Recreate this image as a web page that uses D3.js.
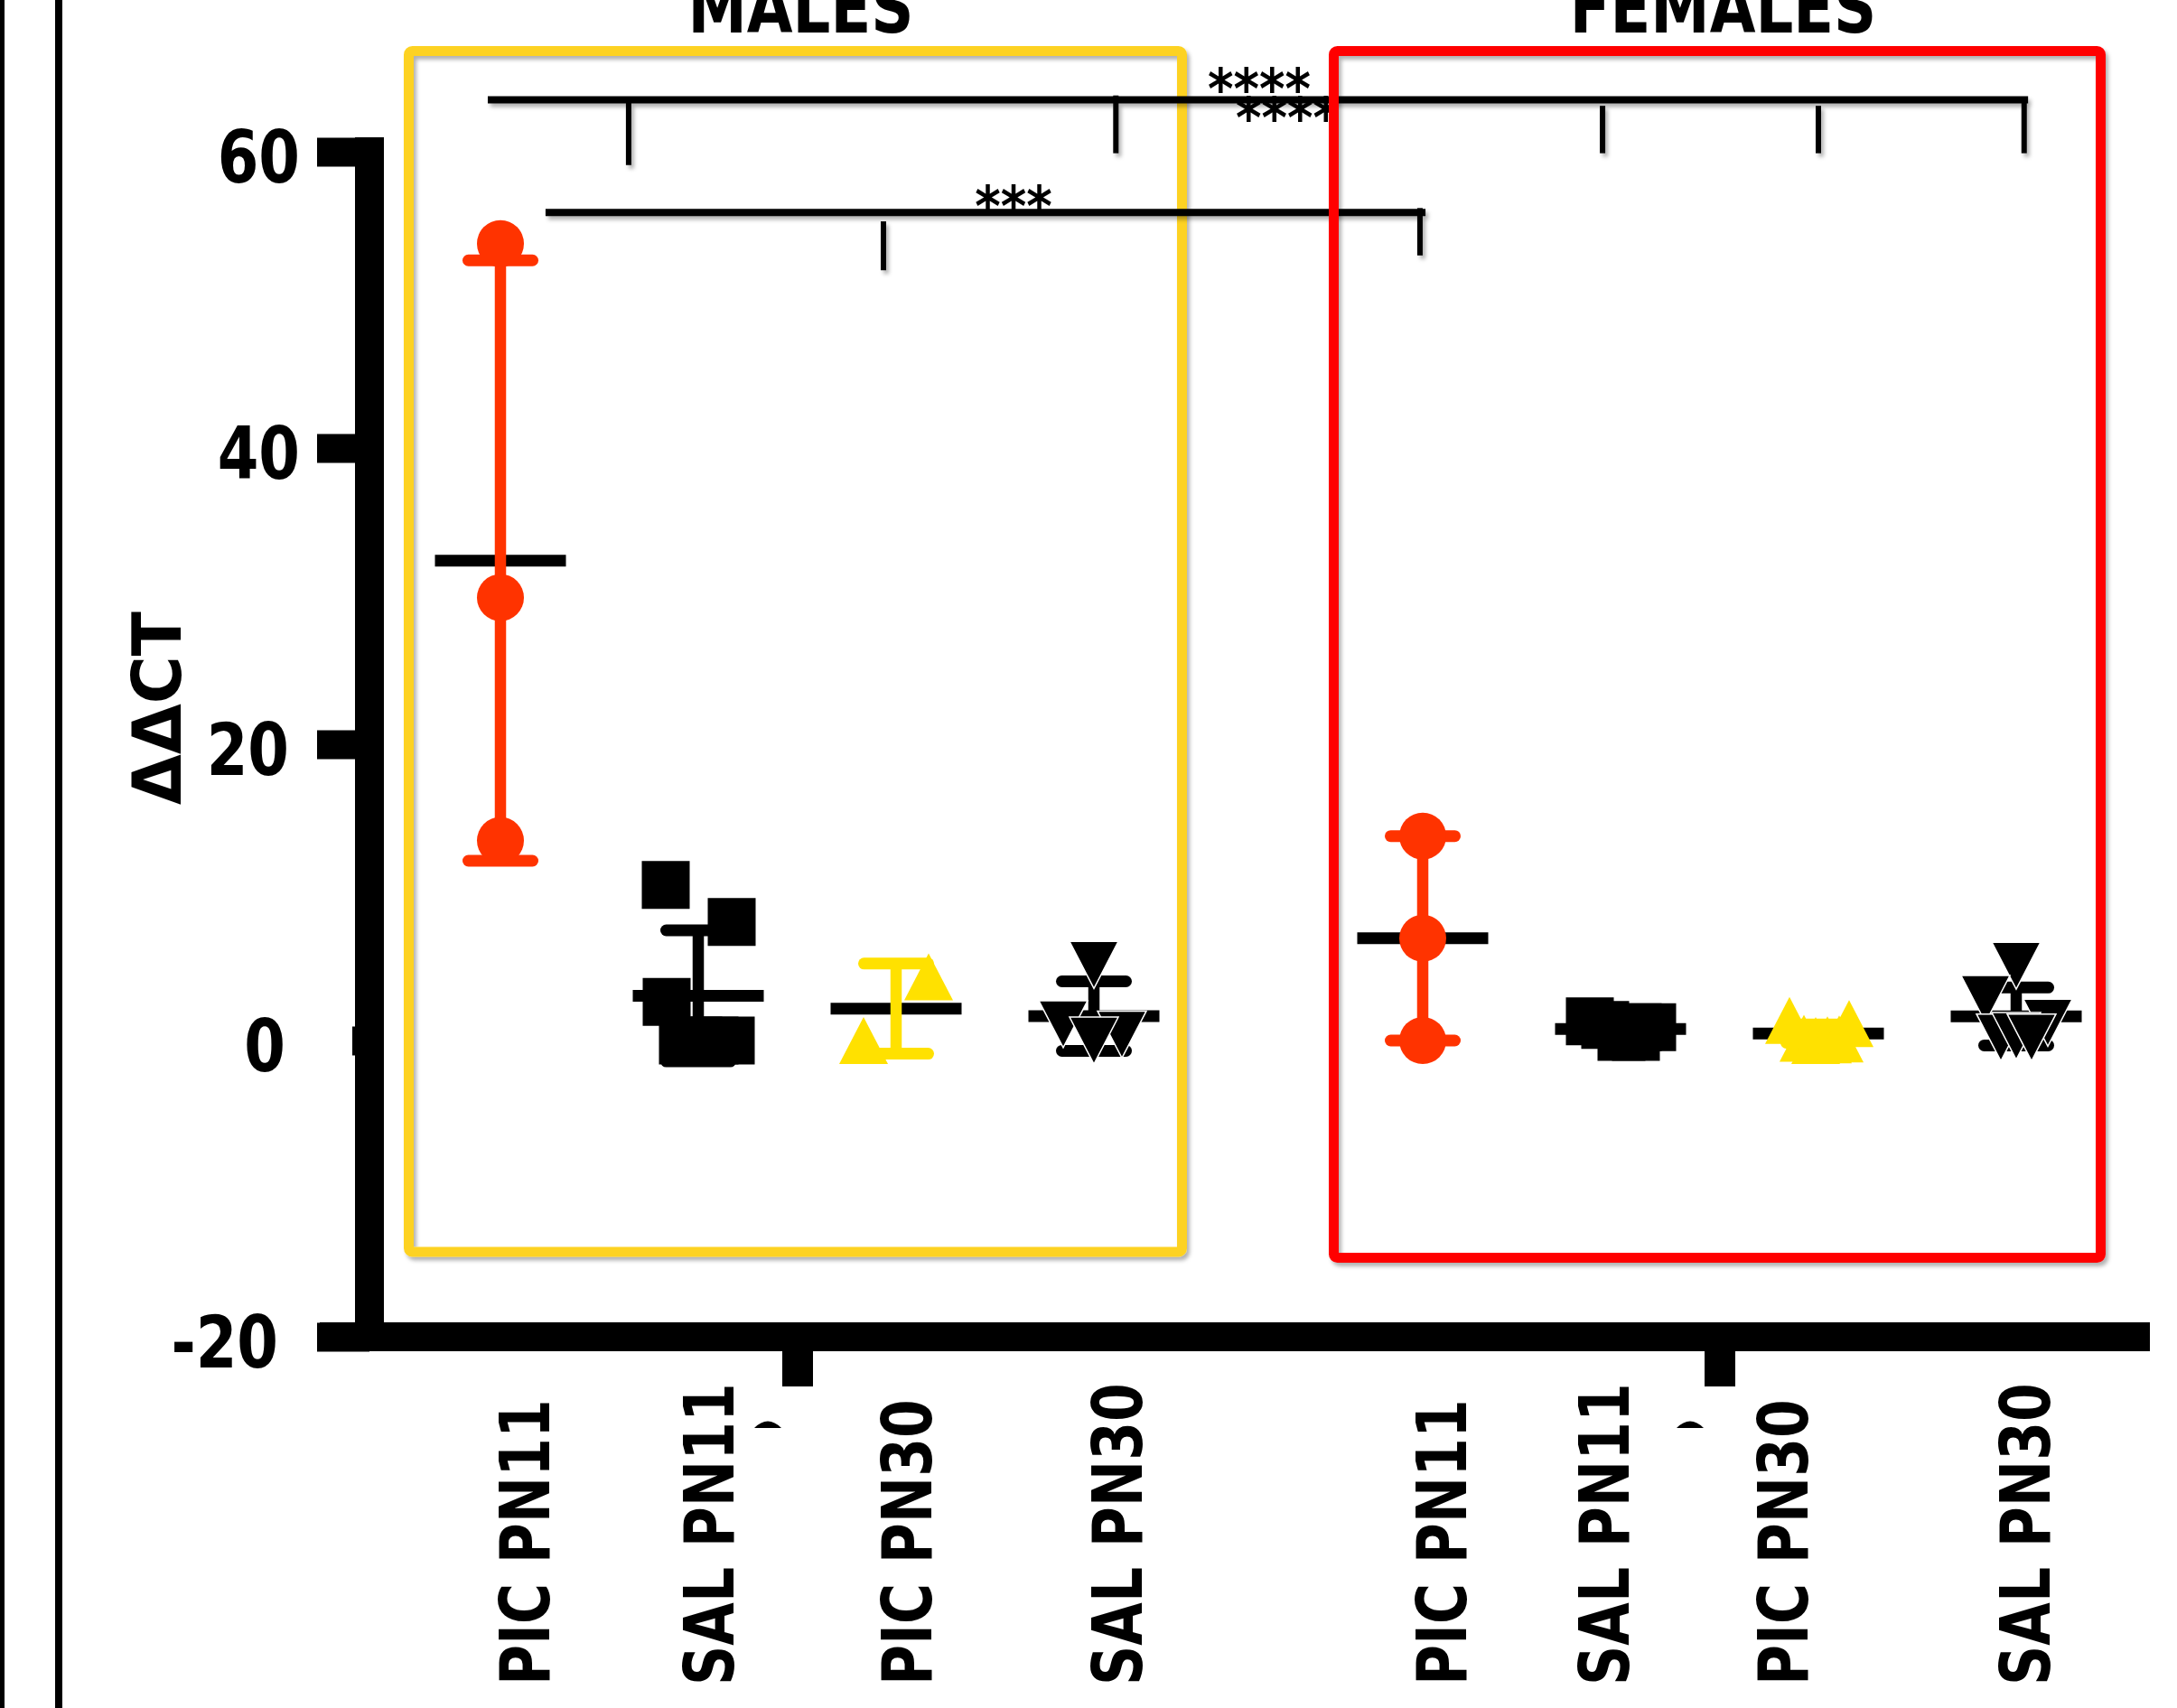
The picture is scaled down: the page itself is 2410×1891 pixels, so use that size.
<!DOCTYPE html>
<html>
<head>
<meta charset="utf-8">
<script src="https://cdn.jsdelivr.net/npm/d3@7"></script>
<style>
  html, body { margin: 0; padding: 0; background: #fff; }
  svg { display: block; }
  text { font-family: "DejaVu Sans", sans-serif; font-weight: bold; fill: #000; }
</style>
</head>
<body>
<div id="viz"></div>
<script>
// ---- data ----
const groups = ['MALES', 'FEMALES'];
const categories = ['PIC PN11', 'SAL PN11', 'PIC PN30', 'SAL PN30'];
const yTicks = [-20, 0, 20, 40, 60];

// ΔΔCT per animal
const malesValues = [
  [53.8, 29.9, 13.5],
  [10.5, 8.0, 2.6, 0.0, 0.0, 0.0, 0.0],
  [4.3, 0.0],
  [5.1, 1.1, 0.4, 0.0]
];
const femalesValues = [
  [13.8, 6.9, 0.0],
  [1.3, 0.9, 1.05, 0.25, 0.25, 0.9],
  [1.35, 1.15, 0.15, 0.0, 0.05, 0.1],
  [5.05, 2.8, 1.2, 0.2, 0.3, 0.2]
];
// horizontal scatter of the dots, px
const malesJitter = [
  [0, 0, 0],
  [-36, 37, -35, -17, 36, 0, 18],
  [36, -36],
  [0, -34, 31, 0]
];
const femalesJitter = [
  [0, 0, 0],
  [-34, 35, -17, 1, 17, 19],
  [-32, 34, -16, -3, 10, 23],
  [0, -34, 35, -17, 0, 17]
];

// significance brackets: level (ΔΔCT), ends and drops as [group, slot, top, bottom]
const brackets = [
  { level: 63.5, from: ['MALES', -0.064], to: ['FEMALES', 3.06], width: 8,
    drops: [['MALES', 0.648, 63.3, 59.1], ['MALES', 3.111, 63.8, 59.9], ['FEMALES', 0.909, 63.1, 59.9],
            ['FEMALES', 2.0, 63.1, 59.9], ['FEMALES', 3.04, 63.5, 59.9]] },
  { level: 55.9, from: ['MALES', 0.228], to: ['FEMALES', 0.014], width: 8,
    drops: [['MALES', 1.936, 55.3, 52.0], ['FEMALES', -0.014, 56.2, 53.0]] }
];
const stars = [
  { text: '***', g: 'MALES', s: 2.594, level: 55.0 },
  { text: '****', g: 'MALES', s: 3.836, level: 62.9 },
  { text: '****', g: 'MALES', s: 3.977, level: 61.0 }
];

// ---- styles / layout ----
const markerKinds = ['circle', 'square', 'up', 'down'];
const markerColors = ['#FF3300', '#000000', '#FFE100', '#000000'];
const labelNudge = { MALES: [54, 39, 39, 53], FEMALES: [48, 9, -12, 37] };
const yLabelNudge = { '-20': -18, '0': -10, '20': -6, '40': 6, '60': 6 };
const squeeze = 0.82;

const W = 2410, H = 1891;
const svg = d3.select('#viz').append('svg').attr('width', W).attr('height', H);

svg.append('defs').append('filter')
  .attr('id', 'shadow').attr('filterUnits', 'userSpaceOnUse')
  .attr('x', 0).attr('y', 0).attr('width', W).attr('height', H)
  .append('feDropShadow').attr('dx', 3).attr('dy', 4).attr('stdDeviation', 2)
  .attr('flood-color', '#000').attr('flood-opacity', 0.3);

const y = d3.scaleLinear().domain([-20, 60]).range([1480, 168]);
const outer = d3.scalePoint().domain(groups).range([882.5, 1903.5]);
const inner = d3.scalePoint().domain(categories).range([-328.5, 328.5]);
const slot = d3.scaleLinear().domain([0, 3]).range([-328.5, 328.5]);
const xAt = (g, s) => outer(g) + slot(s);

function squeezeText(sel, k) {
  sel.each(function () {
    this.setAttribute('textLength', this.getComputedTextLength() * k);
    this.setAttribute('lengthAdjust', 'spacingAndGlyphs');
  });
}

// page frame lines
svg.append('rect').attr('x', 0).attr('y', 0).attr('width', 5).attr('height', H).attr('fill', '#000');
svg.append('rect').attr('x', 61).attr('y', 0).attr('width', 8).attr('height', H).attr('fill', '#000');

// yellow panel box
svg.append('rect')
  .attr('x', outer('MALES') - 430).attr('y', 56.5)
  .attr('width', 856).attr('height', 1329.5).attr('rx', 4)
  .attr('fill', 'none').attr('stroke', '#FDD221').attr('stroke-width', 11)
  .attr('filter', 'url(#shadow)');

// brackets
const gb = svg.append('g').attr('filter', 'url(#shadow)');
brackets.forEach(b => {
  gb.append('line')
    .attr('x1', xAt(...b.from)).attr('x2', xAt(...b.to))
    .attr('y1', y(b.level)).attr('y2', y(b.level))
    .attr('stroke', '#000').attr('stroke-width', b.width);
  b.drops.forEach(d => {
    gb.append('line')
      .attr('x1', xAt(d[0], d[1])).attr('x2', xAt(d[0], d[1]))
      .attr('y1', y(d[2])).attr('y2', y(d[3]))
      .attr('stroke', '#000').attr('stroke-width', 6);
  });
});
svg.selectAll('text.star').data(stars).join('text')
  .attr('class', 'star')
  .attr('x', d => xAt(d.g, d.s)).attr('y', d => y(d.level))
  .attr('text-anchor', 'middle').attr('font-size', 62)
  .text(d => d.text)
  .call(squeezeText, 0.88);

// red panel box
svg.append('rect')
  .attr('x', outer('FEMALES') - 427).attr('y', 56.5)
  .attr('width', 849).attr('height', 1336).attr('rx', 4)
  .attr('fill', 'none').attr('stroke', '#FF0000').attr('stroke-width', 11)
  .attr('filter', 'url(#shadow)');

// group titles
svg.selectAll('text.group').data(groups).join('text')
  .attr('class', 'group')
  .attr('x', d => outer(d) + 4).attr('y', 36)
  .attr('text-anchor', 'middle').attr('font-size', 80)
  .text(d => d)
  .call(squeezeText, squeeze);

// y axis
const gy = svg.append('g').attr('transform', 'translate(409,0)')
  .call(d3.axisLeft(y).tickValues(yTicks).tickSize(58).tickPadding(25).tickFormat(d => String(d)));
gy.select('.domain').remove();
gy.selectAll('.tick line').attr('stroke', '#000').attr('stroke-width', 32);
gy.selectAll('.tick').filter(d => d === 0).select('line').attr('x2', -19);
gy.selectAll('.tick text')
  .attr('x', d => -83 + yLabelNudge[d])
  .attr('dy', 33).attr('font-size', 80).attr('font-family', '"DejaVu Sans", sans-serif')
  .attr('font-weight', 'bold').attr('fill', '#000')
  .call(squeezeText, squeeze);
svg.append('line').attr('x1', 409).attr('x2', 409).attr('y1', 152).attr('y2', 1496)
  .attr('stroke', '#000').attr('stroke-width', 32);

// y title
svg.append('text')
  .attr('transform', 'translate(200,784) rotate(-90)')
  .attr('text-anchor', 'middle').attr('font-size', 75)
  .text('ΔΔCT')
  .attr('textLength', 214).attr('lengthAdjust', 'spacingAndGlyphs');

// x axis
const gx = svg.append('g').attr('transform', 'translate(0,1480)')
  .call(d3.axisBottom(outer).tickSize(55).tickFormat(''));
gx.select('.domain').remove();
gx.selectAll('.tick line').attr('stroke', '#000').attr('stroke-width', 34);
svg.append('line').attr('x1', 354).attr('x2', 2380).attr('y1', y(-20)).attr('y2', y(-20))
  .attr('stroke', '#000').attr('stroke-width', 32);

// category labels
groups.forEach(g => {
  svg.selectAll(null).data(categories).join('text')
    .attr('transform', (c, i) => `translate(${outer(g) + inner(c) + labelNudge[g][i]},1866) rotate(-90)`)
    .attr('font-size', 76)
    .text(c => c)
    .call(squeezeText, 0.81);
  // small clipped mark next to the SAL PN11 label
  const mx = outer(g) + inner('SAL PN11') + 77;
  svg.append('path')
    .attr('d', `M${mx - 15},1581 Q${mx},1566 ${mx + 15},1581 Z`)
    .attr('fill', '#000');
});

// series
const series = [];
groups.forEach(g => categories.forEach((c, i) => {
  const vals = g === 'MALES' ? malesValues[i] : femalesValues[i];
  const jit = g === 'MALES' ? malesJitter[i] : femalesJitter[i];
  series.push({ g, c, i, vals, jit, mean: d3.mean(vals), sd: d3.deviation(vals) });
}));

function markerPath(kind) {
  if (kind === 'circle') return d3.symbol(d3.symbolCircle, Math.PI * 26 * 26)();
  if (kind === 'square') return 'M-26.5,-26.5h53v53h-53z';
  if (kind === 'up') return 'M0,-26L27,26L-27,26Z';
  return 'M-27,-26L27,-26L0,26Z';
}

const gs = svg.append('g');
series.forEach(s => {
  const cx = outer(s.g) + inner(s.c);
  const col = markerColors[s.i];
  // mean
  gs.append('line')
    .attr('x1', cx - 72.5).attr('x2', cx + 72.5)
    .attr('y1', y(s.mean)).attr('y2', y(s.mean))
    .attr('stroke', '#000').attr('stroke-width', 13);
  // SD bar
  gs.append('line')
    .attr('x1', cx).attr('x2', cx)
    .attr('y1', y(s.mean - s.sd)).attr('y2', y(s.mean + s.sd))
    .attr('stroke', col).attr('stroke-width', 12.5);
  [s.mean - s.sd, s.mean + s.sd].forEach(v => {
    gs.append('line')
      .attr('x1', cx - 35.5).attr('x2', cx + 35.5)
      .attr('y1', y(v)).attr('y2', y(v))
      .attr('stroke', col).attr('stroke-width', 13).attr('stroke-linecap', 'round');
  });
  // dots
  gs.selectAll(null).data(s.vals).join('path')
    .attr('d', markerPath(markerKinds[s.i]))
    .attr('transform', (v, k) => `translate(${cx + s.jit[k]},${y(v)})`)
    .attr('fill', col)
    .attr('stroke', markerKinds[s.i] === 'down' ? '#fff' : 'none')
    .attr('stroke-width', 1.5);
});
</script>
</body>
</html>
